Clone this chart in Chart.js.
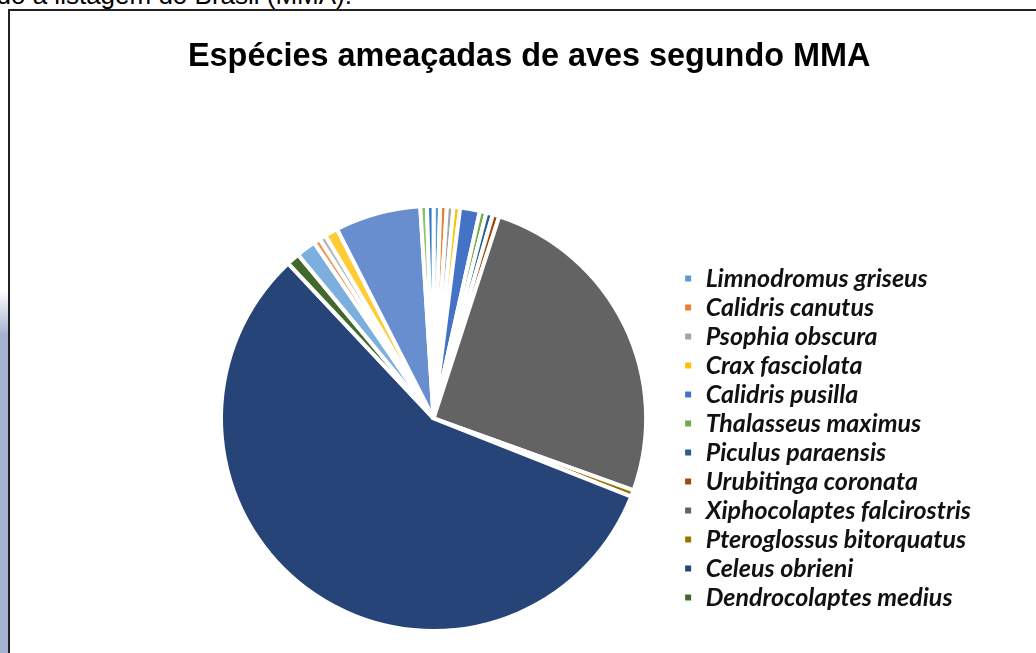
<!DOCTYPE html>
<html lang="pt-BR">
<head>
<meta charset="utf-8">
<title>Espécies ameaçadas de aves segundo MMA</title>
<script src="https://cdn.jsdelivr.net/npm/chart.js@4.4.1/dist/chart.umd.min.js"></script>
<style>
  html, body { margin: 0; padding: 0; background: #fff; overflow: hidden; }
  body { width: 1036px; height: 653px; position: relative; }
  /* last line of the paragraph above the figure, cut at the top */
  .doc-line {
    position: absolute; left: -300px; width: 652px; top: -20px;
    text-align: right; white-space: nowrap;
    font: 26px 'Liberation Sans', Arial, sans-serif; color: #000;
  }
  .side {
    position: absolute; left: 0; top: 290px; width: 8px; height: 363px;
    background: linear-gradient(#fff 0, #a3b3cf 45px, #a3b3cf 100%);
  }
  .frame {
    position: absolute; left: 8px; top: 9px; width: 1100px; height: 700px;
    border: 2px solid #222; box-sizing: border-box;
  }
  #chart { position: absolute; left: 10px; top: 10px; }
</style>
</head>
<body>
<div class="doc-line">do a listagem do Brasil (MMA).</div>
<div class="side"></div>
<div class="frame"></div>
<canvas id="chart" width="1026" height="643"></canvas>
<script>
const SPECIES = [
  'Limnodromus griseus',
  'Calidris canutus',
  'Psophia obscura',
  'Crax fasciolata',
  'Calidris pusilla',
  'Thalasseus maximus',
  'Piculus paraensis',
  'Urubitinga coronata',
  'Xiphocolaptes falcirostris',
  'Pteroglossus bitorquatus',
  'Celeus obrieni',
  'Dendrocolaptes medius',
  'Espécie 13',
  'Espécie 14',
  'Espécie 15',
  'Espécie 16',
  'Espécie 17',
  'Espécie 18',
  'Espécie 19'
];
const RECORDS = [1, 1, 1, 1, 3, 1, 1, 1, 51, 1, 114, 2, 3, 1, 1, 2, 13, 1, 1];

// office-style palette, second and third rounds are darker / lighter tints
const COLORS = [
  '#5B9BD5', '#ED7D31', '#A5A5A5', '#FFC000', '#4472C4', '#70AD47',
  '#255E91', '#9E480E', '#636363', '#997300', '#264478', '#43682B',
  '#7CAFDD', '#F1975A', '#B7B7B7', '#FFCD33', '#698ED0', '#8CC168',
  '#327DC2'
];

// only the first entries fit in the legend column
const LEGEND_ITEMS = 12;

new Chart(document.getElementById('chart'), {
  type: 'pie',
  data: {
    labels: SPECIES,
    datasets: [{
      data: RECORDS,
      backgroundColor: COLORS,
      borderColor: '#fff',
      borderWidth: 4
    }]
  },
  options: {
    responsive: false,
    animation: false,
    devicePixelRatio: 1,
    layout: {
      padding: { left: 178, right: 55, top: 0, bottom: 20 }
    },
    plugins: {
      title: {
        display: true,
        text: 'Espécies ameaçadas de aves segundo MMA',
        align: 'start',
        color: '#000',
        font: { family: "'Liberation Sans', Arial, sans-serif", size: 32.4, weight: 'bold' },
        padding: { top: 28, bottom: 127 }
      },
      legend: {
        position: 'right',
        fullSize: false,
        // empty title just nudges the entries down a bit
        title: { display: true, text: '', font: { size: 12.5 }, padding: 12 },
        labels: {
          boxWidth: 10,
          boxHeight: 10,
          padding: 4,
          color: '#111',
          font: { family: 'Lato', size: 25, style: 'italic', weight: 'bold' },
          filter: item => item.index < LEGEND_ITEMS
        }
      },
      tooltip: { enabled: false }
    }
  }
});
</script>
</body>
</html>
